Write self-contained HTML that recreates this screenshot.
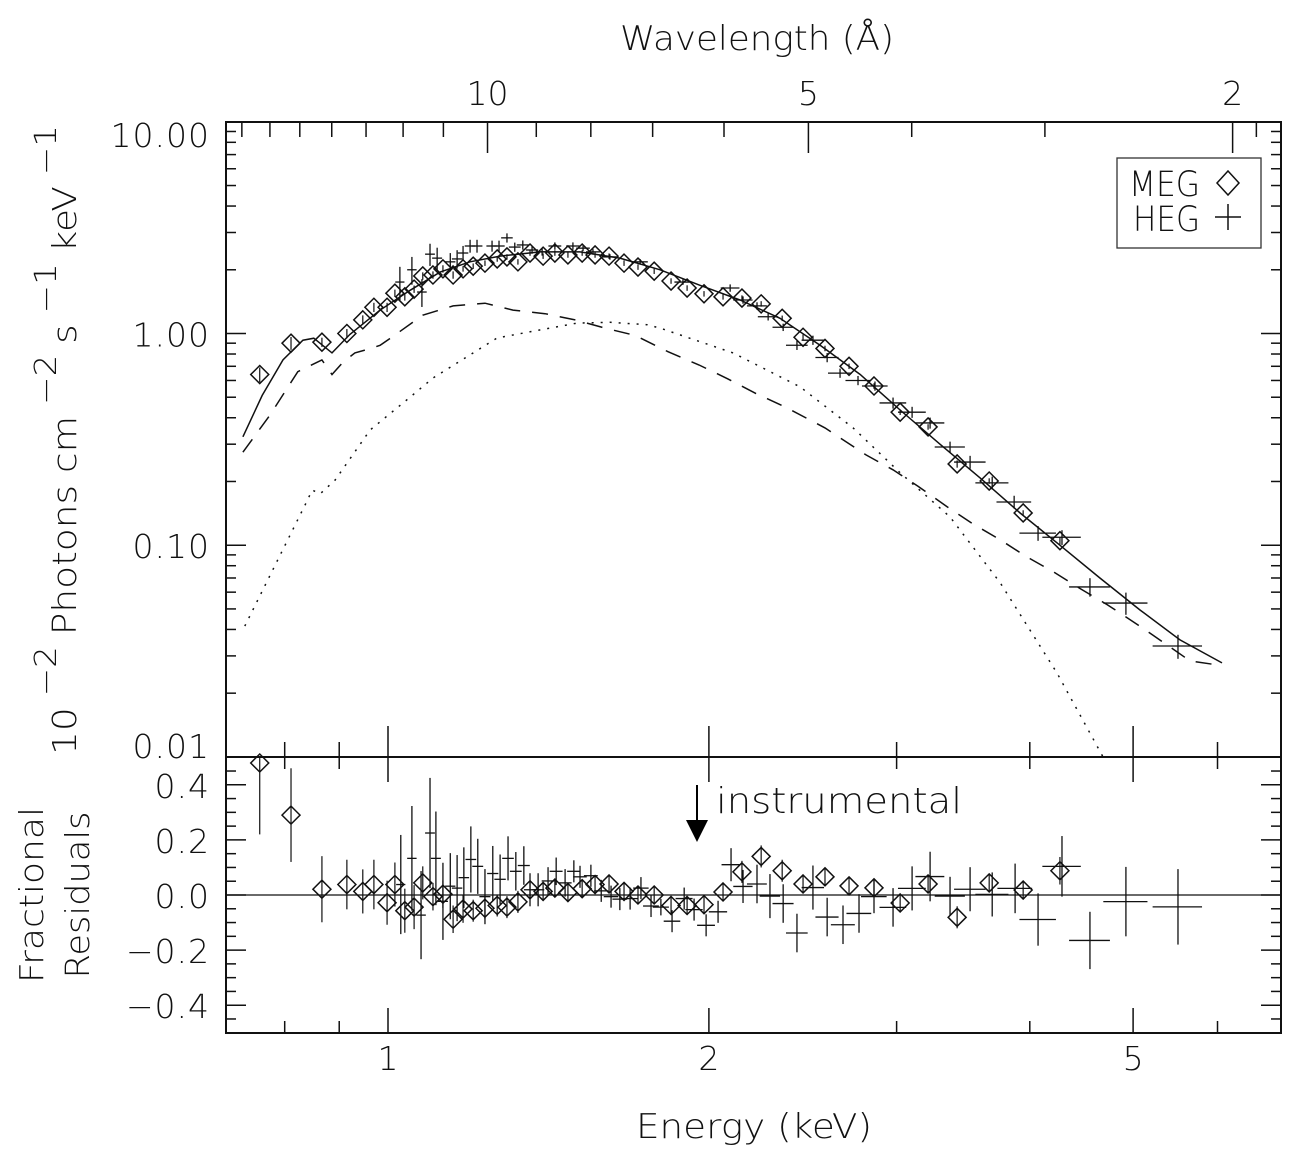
<!DOCTYPE html>
<html><head><meta charset="utf-8"><title>X-ray spectrum with MEG and HEG data and fractional residuals</title>
<style>
html,body{margin:0;padding:0;background:#fff;}
svg{display:block;}
text{font-family:"DejaVu Sans","Liberation Sans",sans-serif;font-weight:200;fill:#111;}
</style></head>
<body>
<svg id="chart" xmlns="http://www.w3.org/2000/svg" width="1297" height="1155" viewBox="0 0 1297 1155">
<rect x="0" y="0" width="1297" height="1155" fill="#fff"/>
<g id="plot"></g>
<text x="757" y="50" font-size="34" text-anchor="middle" textLength="274" lengthAdjust="spacingAndGlyphs">Wavelength (Å)</text>
<text x="754" y="1138" font-size="34" text-anchor="middle" textLength="236" lengthAdjust="spacingAndGlyphs">Energy (keV)</text>
<g transform="translate(76,440) rotate(-90)">
<text x="0" y="0" font-size="33" text-anchor="middle" textLength="630" lengthAdjust="spacingAndGlyphs">10<tspan dy="-20" font-size="30"> −2 </tspan><tspan dy="20">Photons cm</tspan><tspan dy="-20" font-size="30"> −2 </tspan><tspan dy="20">s</tspan><tspan dy="-20" font-size="30"> −1 </tspan><tspan dy="20">keV</tspan><tspan dy="-20" font-size="30"> −1</tspan></text>
</g>
<text transform="translate(43,895) rotate(-90)" x="0" y="0" font-size="33" text-anchor="middle" textLength="176" lengthAdjust="spacingAndGlyphs">Fractional</text>
<text transform="translate(89,895) rotate(-90)" x="0" y="0" font-size="33" text-anchor="middle" textLength="167" lengthAdjust="spacingAndGlyphs">Residuals</text>
<g>
<rect x="1117" y="158" width="144" height="90" fill="#fff" stroke="#333" stroke-width="1.3"/>
<text x="1129" y="196" font-size="35" textLength="71" lengthAdjust="spacingAndGlyphs">MEG</text>
<path d="M1228 171 L1239 183 L1228 195 L1217 183 Z" fill="none" stroke="#111" stroke-width="1.5"/>
<text x="1133" y="231" font-size="35" textLength="67" lengthAdjust="spacingAndGlyphs">HEG</text>
<path d="M1215 217 H1241 M1228 204 V230" stroke="#111" stroke-width="1.5"/>
</g>
<g>
<line x1="697" y1="785" x2="697" y2="822" stroke="#000" stroke-width="2"/>
<path d="M686 820 L708 820 L697 842 Z" fill="#000"/>
<text x="716" y="813" font-size="36" textLength="246" lengthAdjust="spacingAndGlyphs">instrumental</text>
</g>
</svg>
<script>
// ---------- data ----------
const megE=[0.758,0.811,0.867,0.915,0.947,0.970,0.998,1.015,1.037,1.058,1.078,1.102,1.126,1.151,1.176,1.202,1.233,1.266,1.293,1.324,1.359,1.398,1.434,1.475,1.521,1.564,1.612,1.665,1.716,1.777,1.843,1.908,1.979,2.062,2.148,2.239,2.343,2.451,2.570,2.707,2.857,3.023,3.211,3.419,3.664,3.943,4.269];
const megFlux=[0.64,0.90,0.91,1.00,1.16,1.33,1.33,1.55,1.49,1.62,1.87,1.89,2.02,1.89,2.02,2.08,2.15,2.25,2.30,2.18,2.40,2.32,2.40,2.35,2.40,2.35,2.32,2.15,2.06,1.97,1.77,1.64,1.54,1.49,1.47,1.38,1.18,0.96,0.85,0.70,0.565,0.425,0.362,0.242,0.201,0.142,0.105];
const megFluxErr=[0.08,0.07,0.05,0.05,0.05,0.05,0.05,0.04,0.04,0.04,0.04,0.04,0.04,0.04,0.03,0.03,0.03,0.03,0.03,0.03,0.03,0.03,0.03,0.03,0.03,0.03,0.03,0.03,0.03,0.03,0.03,0.03,0.03,0.03,0.03,0.03,0.03,0.03,0.03,0.03,0.03,0.03,0.03,0.04,0.03,0.03,0.04];
const megResid=[0.48,0.29,0.021,0.038,0.013,0.038,-0.028,0.038,-0.057,-0.044,0.044,-0.006,0.003,-0.088,-0.051,-0.057,-0.048,-0.038,-0.044,-0.025,0.019,0.013,0.025,0.009,0.023,0.038,0.040,0.013,0,0,-0.038,-0.038,-0.035,0.011,0.084,0.14,0.088,0.040,0.066,0.033,0.026,-0.029,0.040,-0.081,0.044,0.018,0.088];
const megResidErr=[0.26,0.17,0.12,0.09,0.08,0.09,0.08,0.08,0.08,0.08,0.06,0.05,0.05,0.05,0.05,0.04,0.04,0.04,0.04,0.04,0.03,0.03,0.03,0.03,0.03,0.03,0.03,0.03,0.03,0.03,0.03,0.03,0.03,0.03,0.04,0.04,0.04,0.03,0.03,0.03,0.03,0.03,0.03,0.04,0.03,0.03,0.05];

const hegE=[1.026,1.053,1.076,1.095,1.112,1.144,1.161,1.176,1.194,1.212,1.252,1.271,1.293,1.315,1.338,1.365,1.395,1.434,1.491,1.524,1.557,1.615,1.724,1.891,2.094,2.153,2.219,2.273,2.348,2.419,2.504,2.582,2.655,2.760,2.863,2.977,3.102,3.225,3.367,3.516,3.688,3.867,4.072,4.288,4.555,4.923,5.509];
const hegFlux=[1.75,2.00,1.57,2.37,2.27,2.18,2.25,2.40,2.59,2.59,2.59,2.59,2.83,2.56,2.62,2.48,2.43,2.59,2.59,2.53,2.43,2.30,2.18,1.75,1.64,1.44,1.35,1.20,1.07,0.88,0.93,0.77,0.65,0.60,0.565,0.47,0.425,0.378,0.291,0.247,0.197,0.160,0.114,0.109,0.0635,0.0533,0.0334];
const hegFluxErr=[0.18,0.15,0.15,0.12,0.12,0.10,0.10,0.08,0.07,0.07,0.06,0.06,0.05,0.05,0.05,0.04,0.04,0.04,0.04,0.03,0.03,0.03,0.03,0.03,0.04,0.04,0.04,0.04,0.04,0.05,0.05,0.05,0.05,0.05,0.05,0.06,0.06,0.06,0.06,0.07,0.07,0.07,0.08,0.08,0.10,0.12,0.13];
const hegResidE=[1.028,1.053,1.074,1.095,1.109,1.126,1.144,1.161,1.178,1.196,1.214,1.233,1.254,1.274,1.296,1.318,1.341,1.359,1.383,1.413,1.438,1.466,1.494,1.514,1.550,1.585,1.619,1.650,1.687,1.727,1.765,1.803,1.847,1.896,1.937,1.988,2.040,2.098,2.153,2.219,2.282,2.348,2.419,2.504,2.582,2.672,2.766,2.857,2.977,3.102,3.225,3.367,3.516,3.688,3.875,4.072,4.288,4.555,4.923,5.509];
const hegResid=[0.038,0.133,-0.073,0.225,0.133,-0.023,0.032,0.025,0.063,0.129,0.104,-0.006,0.078,0.057,0.133,0.086,0.107,0.019,0.019,0.051,0.086,0.044,0.086,0.066,0.07,0.015,-0.006,-0.015,-0.013,0.025,-0.04,-0.044,-0.095,-0.013,-0.053,-0.11,-0.061,0.11,0.031,0.040,-0.004,-0.031,-0.138,0.027,-0.080,-0.108,-0.067,-0.006,-0.045,0.024,0.067,-0.004,0.021,0.002,0.024,-0.089,0.104,-0.165,-0.024,-0.043];
const hegResidErr=[0.18,0.19,0.16,0.20,0.17,0.14,0.12,0.12,0.11,0.12,0.10,0.10,0.10,0.09,0.08,0.07,0.07,0.06,0.06,0.05,0.05,0.05,0.04,0.04,0.04,0.04,0.04,0.04,0.04,0.04,0.04,0.03,0.04,0.04,0.04,0.04,0.04,0.06,0.06,0.07,0.08,0.07,0.07,0.08,0.07,0.07,0.07,0.06,0.07,0.08,0.09,0.07,0.08,0.08,0.09,0.095,0.11,0.104,0.126,0.137];
const hegHalfBinAngstrom=0.12;

const totalModelE=[0.731,0.762,0.797,0.832,0.852,0.886,0.921,0.983,1.049,1.119,1.194,1.274,1.389,1.514,1.650,1.800,1.962,2.139,2.332,2.543,2.773,3.023,3.295,3.593,3.917,4.269,4.654,5.075,5.533,6.059];
const totalModelF=[0.325,0.51,0.75,0.93,0.95,0.81,0.99,1.29,1.60,1.95,2.18,2.32,2.43,2.43,2.27,2.00,1.69,1.44,1.18,0.88,0.64,0.435,0.30,0.208,0.142,0.100,0.0700,0.0494,0.0357,0.0278];
const powerlawE=[0.731,0.775,0.823,0.867,0.886,0.907,0.931,0.956,0.983,1.011,1.078,1.151,1.233,1.310,1.404,1.498,1.598,1.705,1.831,1.958,2.084,2.214,2.358,2.570,2.808,2.977,3.142,3.346,3.539,3.752,3.976,4.206,4.460,4.727,5.086,5.380,5.654,6.059];
const powerlawF=[0.275,0.412,0.66,0.75,0.64,0.73,0.81,0.84,0.88,0.97,1.22,1.35,1.39,1.29,1.24,1.16,1.06,0.98,0.82,0.71,0.61,0.52,0.45,0.358,0.267,0.227,0.19,0.152,0.126,0.106,0.088,0.075,0.0624,0.0524,0.0411,0.0338,0.0284,0.027];
const thermalE=[0.734,0.836,0.849,0.864,0.892,0.962,1.049,1.102,1.266,1.419,1.504,1.615,1.750,1.800,2.107,2.435,2.731,3.023,3.367,3.752,4.242,4.685];
const thermalF=[0.0415,0.155,0.182,0.175,0.203,0.350,0.50,0.616,0.953,1.06,1.12,1.13,1.10,1.06,0.81,0.56,0.358,0.220,0.136,0.0664,0.0249,0.01];

const fluxTickValues=[0.01,0.1,1,10];
const fluxTickLabels=["0.01","0.10","1.00","10.00"];
const residTickValues=[0.4,0.2,0,-0.2,-0.4];
const residTickLabels=["0.4","0.2","0.0","\u22120.2","\u22120.4"];
const energyMajorTicks=[1,2,5];
const energyMajorLabels=["1","2","5"];
const energyMinorTicks=[0.8,0.9,3,4,6];
const waveMajorTicks=[10,5,2];
const waveMajorLabels=["10","5","2"];
const waveMinorTicks=[17,16,15,14,13,12,11,9,8,7,6,4,3,1.9,1.8];

// ---------- axes ----------
const X0=226,X1=1281,TOP0=122,TOP1=757,BOT1=1033;
const HC=12.398;
function xE(e){return 388+1066*Math.log10(e);}
function yF(f){return 333.5-211.7*Math.log10(f);}
function yR(r){return 895-275.5*r;}
const NS="http://www.w3.org/2000/svg";
const plot=document.getElementById('plot');
function mk(tag,attrs,parent){const el=document.createElementNS(NS,tag);for(const k in attrs)el.setAttribute(k,attrs[k]);(parent||plot).appendChild(el);return el;}
function ln(x1,y1,x2,y2,g,w){return mk('line',{x1:x1,y1:y1,x2:x2,y2:y2,stroke:'#111','stroke-width':w||1.5},g);}

// clip paths
const defs=mk('defs',{});
const c1=mk('clipPath',{id:'clipTop'},defs);mk('rect',{x:X0,y:TOP0,width:X1-X0,height:TOP1-TOP0},c1);
const c2=mk('clipPath',{id:'clipBot'},defs);mk('rect',{x:X0,y:TOP1,width:X1-X0,height:BOT1-TOP1},c2);

// frames
const frameTop=mk('rect',{x:X0,y:TOP0,width:X1-X0,height:TOP1-TOP0,fill:'none',stroke:'#111','stroke-width':2});


const frameBot=mk('rect',{x:X0,y:TOP1,width:X1-X0,height:BOT1-TOP1,fill:'none',stroke:'#111','stroke-width':2});



// flux y ticks
const gy=mk('g',{});


for(let d=0;d<fluxTickValues.length;d++){
  const v=fluxTickValues[d];const y=yF(v);
  ln(X0,y,X0+20,y,gy);ln(X1,y,X1-20,y,gy);
  if(d<fluxTickValues.length-1){for(let m=2;m<=9;m++){const ym=yF(v*m);ln(X0,ym,X0+10,ym,gy);ln(X1,ym,X1-10,ym,gy);}}
  let by=Math.min(Math.max(y+13,147),758);
  const t=mk('text',{x:210,y:by,'font-size':33,'text-anchor':'end','letter-spacing':'1'},gy);
  t.textContent=fluxTickLabels[d];
  
  
}
// residual y ticks
const gr=mk('g',{});


for(let r=-0.5;r<=0.501;r+=0.05){const y=yR(r);if(y<TOP1+2||y>BOT1-2)continue;const major=Math.abs(Math.round(r*100)%20)<1;const L=major?20:10;ln(X0,y,X0+L,y,gr);ln(X1,y,X1-L,y,gr);}
for(let i=0;i<residTickValues.length;i++){
  const t=mk('text',{x:210,y:yR(residTickValues[i])+13,'font-size':33,'text-anchor':'end','letter-spacing':'1'},gr);
  t.textContent=residTickLabels[i];
  
  
}
// energy ticks
const gx=mk('g',{});


function eTick(e,major){const x=xE(e);ln(x,TOP1,x,TOP1-(major?31:15),gx);ln(x,TOP1,x,TOP1+(major?25:12),gx);ln(x,BOT1,x,BOT1-(major?25:12),gx);}
energyMinorTicks.forEach(e=>eTick(e,false));
energyMajorTicks.forEach((e,i)=>{eTick(e,true);const t=mk('text',{x:xE(e),y:1070,'font-size':33,'text-anchor':'middle'},gx);t.textContent=energyMajorLabels[i];
  
  });
// wavelength ticks
const gw=mk('g',{});


waveMinorTicks.forEach(w=>{const x=xE(HC/w);if(x>X0&&x<X1)ln(x,TOP0,x,TOP0+15,gw);});
waveMajorTicks.forEach((w,i)=>{const x=xE(HC/w);ln(x,TOP0,x,TOP0+31,gw);const t=mk('text',{x:x,y:105,'font-size':33,'text-anchor':'middle'},gw);t.textContent=waveMajorLabels[i];
  
  });

// ---------- model curves ----------
function curve(E,F,dash,name){
  let d='';for(let i=0;i<E.length;i++){d+=(i?'L':'M')+xE(E[i]).toFixed(1)+' '+yF(F[i]).toFixed(1);}
  const p=mk('path',{d:d,fill:'none',stroke:'#111','stroke-width':1.5,'clip-path':'url(#clipTop)'});
  if(dash)p.setAttribute('stroke-dasharray',dash);
  
  
}
curve(thermalE,thermalF,'2 7','thermal-component-dotted');
curve(powerlawE,powerlawF,'16 12','powerlaw-component-dashed');
curve(totalModelE,totalModelF,null,'total-model-solid');

// zero line
const zl=mk('line',{x1:X0,y1:yR(0),x2:X1,y2:yR(0),stroke:'#111','stroke-width':1.3});



// ---------- data points ----------
const gMeg=mk('g',{'clip-path':'url(#clipTop)'});


const gHeg=mk('g',{'clip-path':'url(#clipTop)'});


const gMegR=mk('g',{});


const gHegR=mk('g',{'clip-path':'url(#clipBot)'});


function diamond(x,y,g,name){const s=9;const p=mk('path',{d:`M${x} ${y-s}L${x+s} ${y}L${x} ${y+s}L${x-s} ${y}Z`,fill:'none',stroke:'#111','stroke-width':1.5},g);
  
  }
for(let i=0;i<megE.length;i++){
  const x=xE(megE[i]),y=yF(megFlux[i]);
  ln(x,yF(megFlux[i]*(1+megFluxErr[i])),x,yF(megFlux[i]*(1-megFluxErr[i])),gMeg,1.2);
  diamond(x,y,gMeg,'meg-point');
}
for(let i=0;i<hegE.length;i++){
  const e=hegE[i],dE=e*e*hegHalfBinAngstrom/HC;
  const x=xE(e),y=yF(hegFlux[i]);
  const g=mk('g',{},gHeg);
  
  
  ln(xE(e-dE),y,xE(e+dE),y,g,1.3);
  ln(x,yF(hegFlux[i]*(1+hegFluxErr[i])),x,yF(hegFlux[i]*(1-hegFluxErr[i])),g,1.3);
}
for(let i=0;i<megE.length;i++){
  const x=xE(megE[i]),y=yR(megResid[i]);
  const top=Math.max(yR(megResid[i]+megResidErr[i]),TOP1),bot=Math.min(yR(megResid[i]-megResidErr[i]),BOT1);
  ln(x,top,x,bot,gMegR,1.2);
  diamond(x,Math.max(y,TOP1+6),gMegR,'meg-residual-point');
}
for(let i=0;i<hegResidE.length;i++){
  const e=hegResidE[i],dE=e*e*hegHalfBinAngstrom/HC;
  const x=xE(e),y=yR(hegResid[i]);
  const g=mk('g',{},gHegR);
  
  
  ln(xE(e-dE),y,xE(e+dE),y,g,1.3);
  ln(x,yR(hegResid[i]+hegResidErr[i]),x,yR(hegResid[i]-hegResidErr[i]),g,1.3);
}
</script>
</body></html>
